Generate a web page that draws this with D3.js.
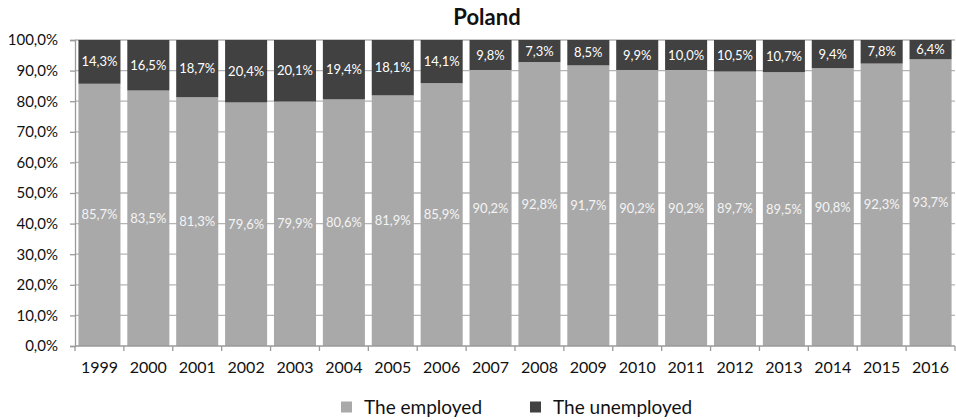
<!DOCTYPE html>
<html>
<head>
<meta charset="utf-8">
<script src="https://cdn.jsdelivr.net/npm/d3@7/dist/d3.min.js"></script>
<style>
  html, body { margin: 0; padding: 0; background: #fff; }
  svg { display: block; font-family: Lato, "Open Sans", "Liberation Sans", sans-serif; }
</style>
</head>
<body>
<svg id="chart" width="956" height="420"></svg>
<script>
// Labour force structure in Poland, 1999–2016 (%)
const years = ["1999","2000","2001","2002","2003","2004","2005","2006","2007","2008","2009","2010","2011","2012","2013","2014","2015","2016"];
const employed = [85.7,83.5,81.3,79.6,79.9,80.6,81.9,85.9,90.2,92.8,91.7,90.2,90.2,89.7,89.5,90.8,92.3,93.7];
const unemployed = [14.3,16.5,18.7,20.4,20.1,19.4,18.1,14.1,9.8,7.3,8.5,9.9,10.0,10.5,10.7,9.4,7.8,6.4];
const yTicks = [0,10,20,30,40,50,60,70,80,90,100];
const seriesNames = ["The employed", "The unemployed"];
const colors = ["#a9a9a9", "#414141"];

const svg = d3.select("#chart");
const margin = { left: 75, right: 1, top: 40, bottom: 74 };
const W = 956, H = 420;
const x0 = margin.left, x1 = W - margin.right;
const y0 = H - margin.bottom, y1 = margin.top;

const x = d3.scaleBand().domain(years).range([x0, x1]).paddingInner(0.14).paddingOuter(0.07);
const y = d3.scaleLinear().domain([0, 100]).range([y0, y1]);
const fmt = v => d3.format(".1f")(v).replace(".", ",") + "%";

// Title
svg.append("text").attr("x", 487).attr("y", 25)
  .attr("text-anchor", "middle").attr("font-size", 22).attr("font-weight", "bold")
  .attr("fill", "#111").text("Poland");

// Gridlines
svg.append("g").selectAll("line").data(yTicks.filter(t => t > 0)).join("line")
  .attr("x1", x0).attr("x2", x1).attr("y1", d => y(d)).attr("y2", d => y(d))
  .attr("stroke", "#b5b5b5").attr("stroke-width", 1.3);

// Y axis
const yAxis = d3.axisLeft(y).tickValues(yTicks).tickFormat(fmt).tickSize(5).tickPadding(12);
const gy = svg.append("g").attr("transform", `translate(${x0},0)`).call(yAxis);
gy.select(".domain").attr("stroke", "#9a9a9a").attr("stroke-width", 1.3);
gy.selectAll(".tick line").attr("stroke", "#9a9a9a").attr("stroke-width", 1.3);
gy.selectAll(".tick text").attr("font-size", 15).attr("fill", "#111")
  .attr("font-family", "Lato, 'Open Sans', sans-serif");

// Stacked bars
const stackData = years.map((yr, i) => ({ year: yr, e: employed[i], u: unemployed[i] }));
const stack = d3.stack().keys(["e", "u"])(stackData);
svg.append("clipPath").attr("id", "plot")
  .append("rect").attr("x", x0).attr("y", y1).attr("width", x1 - x0).attr("height", y0 - y1);

const layers = svg.append("g").attr("clip-path", "url(#plot)").selectAll("g").data(stack).join("g")
  .attr("fill", (d, i) => colors[i]);
layers.selectAll("rect").data(d => d).join("rect")
  .attr("x", d => x(d.data.year))
  .attr("width", x.bandwidth())
  .attr("y", d => y(Math.min(d[1], 100)))
  .attr("height", d => y(d[0]) - y(Math.min(d[1], 100)));

// Value labels
stack.forEach((layer, li) => {
  svg.append("g").selectAll("text").data(layer).join("text")
    .attr("x", d => x(d.data.year) + x.bandwidth() / 2)
    .attr("y", d => (y(d[0]) + y(Math.min(d[1], 100))) / 2)
    .attr("dy", "0.35em")
    .attr("text-anchor", "middle")
    .attr("font-size", 13)
    .attr("fill", li === 0 ? "#f4f4f4" : "#ffffff")
    .text(d => fmt(d.data[layer.key]));
});

// X axis
const xb = d3.scaleLinear().domain([0, years.length]).range([x0, x1]);
const gx = svg.append("g").attr("transform", `translate(0,${y0})`);
gx.append("line").attr("x1", x0).attr("x2", x1).attr("stroke", "#9a9a9a").attr("stroke-width", 1.3);
gx.selectAll(".tk").data(d3.range(years.length + 1)).join("line").attr("class", "tk")
  .attr("x1", d => xb(d)).attr("x2", d => xb(d)).attr("y1", 0).attr("y2", 5)
  .attr("stroke", "#9a9a9a").attr("stroke-width", 1.3);
gx.selectAll("text").data(years).join("text")
  .attr("x", d => x(d) + x.bandwidth() / 2).attr("y", 21).attr("dy", "0.35em")
  .attr("text-anchor", "middle").attr("font-size", 16).attr("fill", "#111").text(d => d);

// Legend
const legend = svg.append("g").attr("transform", "translate(341,407)");
const legX = [0, 189];
seriesNames.forEach((name, i) => {
  const g = legend.append("g").attr("transform", `translate(${legX[i]},0)`);
  g.append("rect").attr("x", 0).attr("y", -5.5).attr("width", 11).attr("height", 11).attr("fill", colors[i]);
  g.append("text").attr("x", 23).attr("y", 0).attr("dy", "0.35em")
    .attr("font-size", 19).attr("fill", "#111").text(name);
});
</script>
</body>
</html>
